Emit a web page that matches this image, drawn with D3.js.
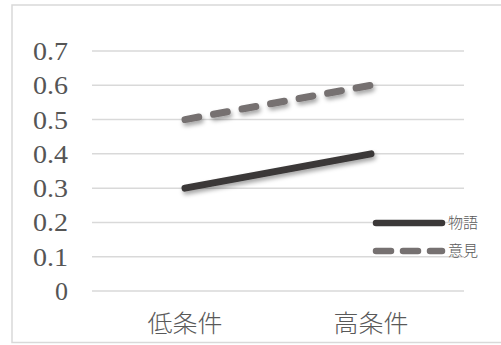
<!DOCTYPE html>
<html>
<head>
<meta charset="utf-8">
<script src="https://cdn.jsdelivr.net/npm/d3@7"></script>
<style>
  html, body { margin: 0; padding: 0; background: #fff; }
  svg { display: block; }
  .ylab { font-family: "Liberation Serif", "DejaVu Serif", serif; }
  .cjk { font-family: "Noto Sans CJK JP", sans-serif; }
</style>
</head>
<body>
<svg id="chart" width="501" height="345"></svg>
<script>
// Data
const categories = ["低条件", "高条件"];
const seriesNames = ["物語", "意見"];
const storyValues = [0.3, 0.4];
const opinionValues = [0.5, 0.6];
const yTicks = [0, 0.1, 0.2, 0.3, 0.4, 0.5, 0.6, 0.7];

const svg = d3.select("#chart");

// Chart frame
svg.append("rect")
  .attr("x", 12).attr("y", 5)
  .attr("width", 500).attr("height", 337.5)
  .attr("fill", "#fff")
  .attr("stroke", "#d9d9d9").attr("stroke-width", 1.5);

// Soft shadow under the lines
const defs = svg.append("defs");
const f = defs.append("filter").attr("id", "shadow")
  .attr("x", "-10%").attr("y", "-50%").attr("width", "130%").attr("height", "250%");
f.append("feDropShadow")
  .attr("dx", 1.5).attr("dy", 3).attr("stdDeviation", 2.2)
  .attr("flood-color", "#000").attr("flood-opacity", 0.35);

const plot = { left: 92, right: 464, top: 51, bottom: 291 };

const x = d3.scaleBand().domain(categories)
  .range([plot.left, plot.right]).padding(0);
const y = d3.scaleLinear().domain([0, 0.7])
  .range([plot.bottom, plot.top]);

// Gridlines
svg.append("g")
  .selectAll("line").data(yTicks).join("line")
  .attr("x1", plot.left).attr("x2", plot.right)
  .attr("y1", d => y(d)).attr("y2", d => y(d))
  .attr("stroke", "#d9d9d9").attr("stroke-width", 1.5);

// Y axis labels
const yAxis = d3.axisLeft(y).tickValues(yTicks)
  .tickFormat(d => d === 0 ? "0" : d3.format(".1f")(d))
  .tickSize(0).tickPadding(0);
const gy = svg.append("g").attr("transform", `translate(68,0)`).call(yAxis)
  .attr("font-family", null).attr("font-size", null);
gy.select(".domain").remove();
gy.selectAll("text")
  .attr("class", "ylab")
  .style("font-size", "25px")
  .attr("fill", "#555555")
  .attr("dy", "0.34em")
  .attr("textLength", d => d === 0 ? 13 : 35)
  .attr("lengthAdjust", "spacingAndGlyphs");

// X axis labels
const xAxis = d3.axisBottom(x).tickSize(0).tickPadding(0);
const gx = svg.append("g").attr("transform", `translate(0,${plot.bottom})`).call(xAxis)
  .attr("font-family", null).attr("font-size", null);
gx.select(".domain").remove();
gx.selectAll("text")
  .attr("class", "cjk")
  .style("font-size", "24px")
  .style("font-weight", 300)
  .attr("fill", "#595959")
  .attr("dy", null)
  .attr("y", 41)
  .attr("textLength", 75)
  .attr("lengthAdjust", "spacingAndGlyphs");

// Lines
const line = d3.line()
  .x((d, i) => x(categories[i]) + x.bandwidth() / 2)
  .y(d => y(d));

const series = [
  { name: seriesNames[0], values: storyValues, color: "#3b3838", dash: null },
  { name: seriesNames[1], values: opinionValues, color: "#767171", dash: "14,15" }
];

svg.append("g").selectAll("path").data(series).join("path")
  .attr("d", d => line(d.values))
  .attr("fill", "none")
  .attr("stroke", d => d.color)
  .attr("stroke-width", 7)
  .attr("stroke-linecap", "round")
  .attr("stroke-dasharray", d => d.dash)
  .attr("filter", "url(#shadow)");

// Legend
const legendY = [223, 251];
const lg = svg.append("g").selectAll("g").data(series).join("g")
  .attr("transform", (d, i) => `translate(0,${legendY[i]})`);
lg.append("line")
  .attr("x1", 376).attr("x2", 442)
  .attr("y1", 0).attr("y2", 0)
  .attr("stroke", d => d.color)
  .attr("stroke-width", 6.5)
  .attr("stroke-linecap", "round")
  .attr("stroke-dasharray", d => d.dash ? "15,12" : null);
lg.append("text")
  .attr("class", "cjk")
  .attr("x", 448).attr("y", 0)
  .attr("dy", "0.36em")
  .style("font-size", "15px")
  .style("font-weight", 300)
  .attr("fill", "#595959")
  .text(d => d.name);
</script>
</body>
</html>
